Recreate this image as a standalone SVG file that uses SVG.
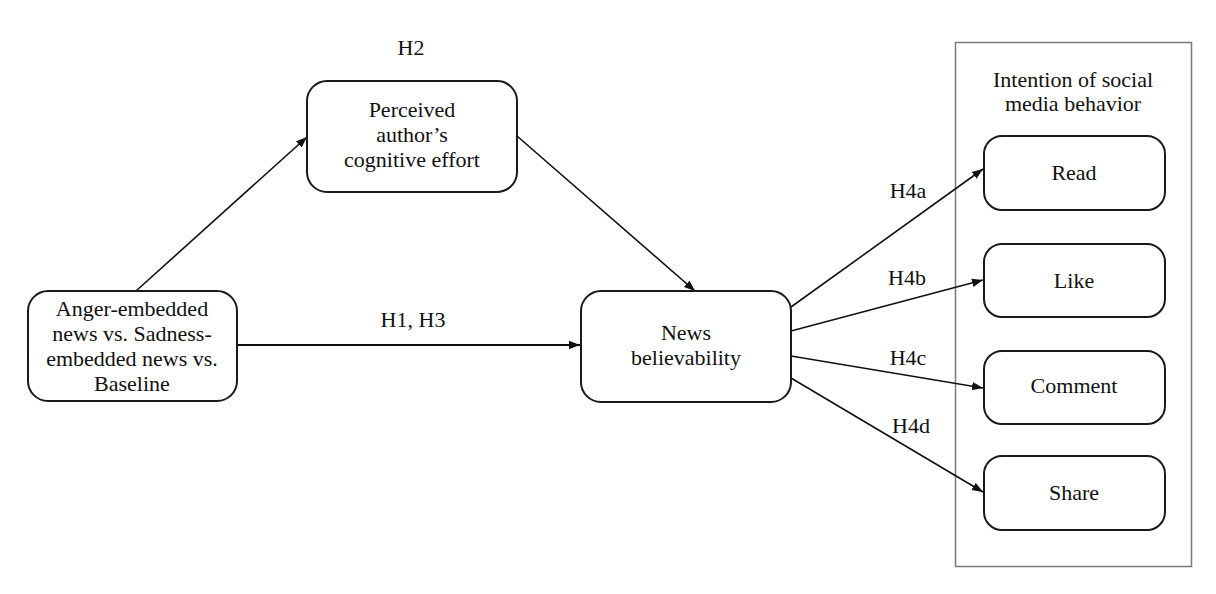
<svg xmlns="http://www.w3.org/2000/svg" width="1216" height="594" viewBox="0 0 1216 594">
<defs>
<marker id="ah" markerUnits="userSpaceOnUse" markerWidth="12" markerHeight="10" refX="11" refY="5" orient="auto">
<path d="M0,0.8 L11,5 L0,9.2 Z" fill="#111"/>
</marker>
</defs>
<style>
.node{fill:#fff;stroke:#1a1a1a;stroke-width:2}
.t{font-size:22px;fill:#111;text-anchor:middle}
.c{stroke:#111;stroke-width:1.6;fill:none;marker-end:url(#ah)}
</style>
<rect width="1216" height="594" fill="#fff"/>
<g font-family="'Liberation Serif', 'Times New Roman', 'DejaVu Serif', serif">
<g id="container">
<rect x="955.5" y="42.5" width="236" height="524" fill="none" stroke="#7a7a7a" stroke-width="1.5"/>
<text class="t" x="1073" y="87">Intention of social</text>
<text class="t" x="1073" y="111">media behavior</text>
</g>
<g id="connectors">
<line class="c" x1="136" y1="291" x2="307" y2="137"/>
<line class="c" x1="517" y1="136" x2="695" y2="291"/>
<line class="c" x1="237" y1="345" x2="580" y2="345" style="stroke-width:2"/>
<line class="c" x1="791" y1="307" x2="983" y2="169"/>
<line class="c" x1="791" y1="331" x2="983" y2="280"/>
<line class="c" x1="791" y1="356" x2="983" y2="388"/>
<line class="c" x1="791" y1="378" x2="983" y2="492"/>
<text class="t" x="411" y="55">H2</text>
<text class="t" x="413" y="327">H1, H3</text>
<text class="t" x="908" y="198">H4a</text>
<text class="t" x="907" y="285">H4b</text>
<text class="t" x="908" y="365">H4c</text>
<text class="t" x="911" y="433">H4d</text>
</g>
<g id="anger">
<rect class="node" x="28" y="291" width="209" height="110" rx="20"/>
<text class="t" x="132" y="316">Anger-embedded</text>
<text class="t" x="132" y="341">news vs. Sadness-</text>
<text class="t" x="132" y="366">embedded news vs.</text>
<text class="t" x="132" y="391">Baseline</text>
</g>
<g id="effort">
<rect class="node" x="307" y="81" width="210" height="111" rx="20"/>
<text class="t" x="412" y="117">Perceived</text>
<text class="t" x="412" y="142">author’s</text>
<text class="t" x="412" y="167">cognitive effort</text>
</g>
<g id="news">
<rect class="node" x="581" y="291" width="210" height="111" rx="20"/>
<text class="t" x="686" y="340">News</text>
<text class="t" x="686" y="365">believability</text>
</g>
<g id="read">
<rect class="node" x="984" y="136" width="181" height="74" rx="18"/>
<text class="t" x="1074" y="180">Read</text>
</g>
<g id="like">
<rect class="node" x="984" y="244" width="181" height="73" rx="18"/>
<text class="t" x="1074" y="288">Like</text>
</g>
<g id="comment">
<rect class="node" x="984" y="351" width="181" height="73" rx="18"/>
<text class="t" x="1074" y="393">Comment</text>
</g>
<g id="share">
<rect class="node" x="984" y="456" width="181" height="74" rx="18"/>
<text class="t" x="1074" y="500">Share</text>
</g>
</g>
</svg>
